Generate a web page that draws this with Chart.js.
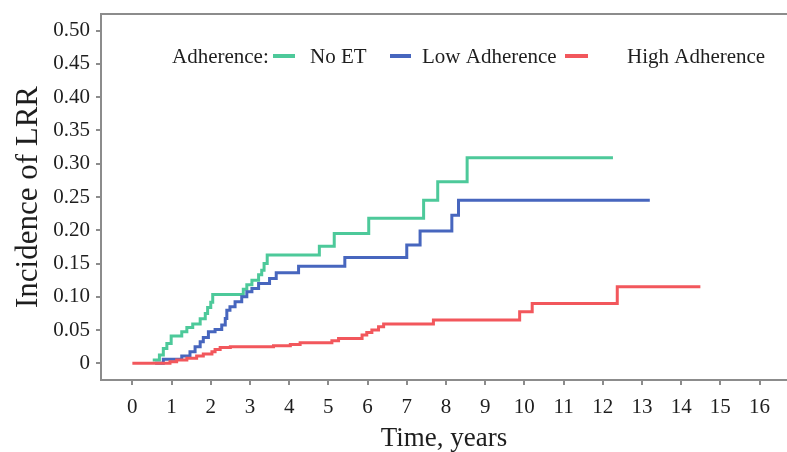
<!DOCTYPE html>
<html>
<head>
<meta charset="utf-8">
<script src="https://cdn.jsdelivr.net/npm/chart.js@4/dist/chart.umd.min.js"></script>
<style>
html,body{margin:0;padding:0;background:#fff;}
#wrap{width:787px;height:452px;position:relative;}
</style>
</head>
<body>
<div id="wrap"><canvas id="c" width="787" height="452"></canvas></div>
<script>
// ---- data ----
const xTicks = [0,1,2,3,4,5,6,7,8,9,10,11,12,13,14,15,16];
const yTicks = [0,0.05,0.10,0.15,0.20,0.25,0.30,0.35,0.40,0.45,0.50];

const seriesNames = ["No ET","Low Adherence","High Adherence"];

const noEtTimes  = [0.52,0.69,0.79,0.88,0.99,1.26,1.39,1.54,1.73,1.86,1.92,2.00,2.05,2.83,2.92,3.05,3.22,3.30,3.36,3.44,4.77,5.15,6.03,7.43,7.79,8.54,12.26];
const noEtValues = [0.005,0.0125,0.0225,0.030,0.041,0.0475,0.054,0.059,0.067,0.075,0.084,0.092,0.1035,0.1115,0.118,0.125,0.133,0.140,0.150,0.163,0.176,0.195,0.218,0.245,0.273,0.309,0.309];

const lowTimes  = [0.58,0.79,1.26,1.47,1.60,1.73,1.81,1.94,2.11,2.28,2.37,2.41,2.49,2.62,2.79,2.92,3.05,3.22,3.50,3.67,4.24,5.42,7.00,7.34,8.15,8.32,13.20];
const lowValues = [0,0.006,0.011,0.0175,0.025,0.0325,0.039,0.0475,0.051,0.0575,0.0675,0.080,0.085,0.0925,0.100,0.1075,0.1125,0.120,0.1275,0.136,0.146,0.159,0.178,0.199,0.2225,0.245,0.245];

const highTimes  = [0,0.96,1.13,1.39,1.64,1.81,2.03,2.11,2.24,2.50,3.60,4.03,4.28,5.09,5.26,5.86,5.98,6.11,6.28,6.41,7.68,9.88,10.20,12.37,14.49];
const highValues = [0,0.0025,0.005,0.0075,0.011,0.014,0.0175,0.021,0.024,0.025,0.0265,0.0285,0.031,0.034,0.0375,0.0425,0.0465,0.050,0.055,0.059,0.065,0.0775,0.090,0.115,0.115];

const colors = ["#4DC99A","#4766BE","#F2575C"];

function pts(t, v){ return t.map((x,i)=>({x:x, y:v[i]})); }

const AXIS_COLOR = "#8c8c8c";
const FONT = "'Liberation Serif','Times New Roman',serif";
const TEXT = "#1e1e1e";

const legendPlugin = {
  id: 'customLegend',
  afterDraw(chart){
    const ctx = chart.ctx;
    const ca = chart.chartArea;
    ctx.save();
    // top border
    ctx.strokeStyle = AXIS_COLOR;
    ctx.lineWidth = 2;
    ctx.beginPath();
    ctx.moveTo(ca.left-1, ca.top);
    ctx.lineTo(ca.right, ca.top);
    ctx.stroke();
    // legend
    const y = 57;
    ctx.font = "21px " + FONT;
    ctx.fillStyle = TEXT;
    ctx.textBaseline = 'middle';
    ctx.textAlign = 'left';
    ctx.fillText("Adherence:", 172, y);
    const items = [
      {x0:273, x1:295, tx:310, label:seriesNames[0], c:colors[0]},
      {x0:390, x1:411, tx:422, label:seriesNames[1], c:colors[1]},
      {x0:565, x1:588, tx:627, label:seriesNames[2], c:colors[2]}
    ];
    items.forEach(it=>{
      ctx.strokeStyle = it.c;
      ctx.lineWidth = 4;
      ctx.beginPath();
      ctx.moveTo(it.x0, y-1);
      ctx.lineTo(it.x1, y-1);
      ctx.stroke();
      ctx.fillStyle = TEXT;
      ctx.fillText(it.label, it.tx, y);
    });
    ctx.restore();
  }
};

const ds = (name, t, v, c, order) => ({
  label: name,
  data: pts(t, v),
  borderColor: c,
  backgroundColor: c,
  borderWidth: 3,
  pointRadius: 0,
  stepped: 'before',
  fill: false,
  order: order
});

new Chart(document.getElementById('c'), {
  type: 'line',
  data: {
    datasets: [
      ds(seriesNames[0], noEtTimes, noEtValues, colors[0], 3),
      ds(seriesNames[1], lowTimes, lowValues, colors[1], 2),
      ds(seriesNames[2], highTimes, highValues, colors[2], 1)
    ]
  },
  options: {
    responsive: false,
    animation: false,
    devicePixelRatio: 1,
    layout: { padding: { top: 14, right: 0, left: 0, bottom: 0 } },
    plugins: { legend: { display: false }, tooltip: { enabled: false } },
    scales: {
      x: {
        type: 'linear',
        min: -0.8,
        max: 16.7,
        afterBuildTicks: s => { s.ticks = xTicks.map(v=>({value:v})); },
        afterFit: s => { s.height = 72; s.paddingLeft = 0; s.paddingRight = 0; },
        grid: { display: true, drawOnChartArea: false, drawTicks: true, tickLength: 5, color: AXIS_COLOR, lineWidth: 2 },
        border: { display: true, color: AXIS_COLOR, width: 2 },
        ticks: {
          font: { family: FONT, size: 21, lineHeight: 1.2 },
          color: TEXT,
          padding: 10,
          maxRotation: 0,
          autoSkip: false,
          callback: v => String(v)
        },
        title: {
          display: true,
          text: 'Time, years',
          font: { family: FONT, size: 27, lineHeight: 1 },
          color: TEXT,
          padding: { top: 0, bottom: 0 }
        }
      },
      y: {
        type: 'linear',
        min: -0.025,
        max: 0.525,
        afterBuildTicks: s => { s.ticks = yTicks.map(v=>({value:v})); },
        afterFit: s => { s.width = 101; s.paddingTop = 0; s.paddingBottom = 0; },
        grid: { display: true, drawOnChartArea: false, drawTicks: true, tickLength: 5, color: AXIS_COLOR, lineWidth: 2 },
        border: { display: true, color: AXIS_COLOR, width: 2 },
        ticks: {
          font: { family: FONT, size: 21, lineHeight: 1.2 },
          color: TEXT,
          padding: 6,
          autoSkip: false,
          callback: v => (Math.abs(v) < 1e-9 ? '0' : v.toFixed(2))
        },
        title: {
          display: true,
          text: 'Incidence of LRR',
          font: { family: FONT, size: 31, lineHeight: 1 },
          color: TEXT,
          padding: { top: 13, bottom: 0 }
        }
      }
    }
  },
  plugins: [legendPlugin]
});
</script>
</body>
</html>
